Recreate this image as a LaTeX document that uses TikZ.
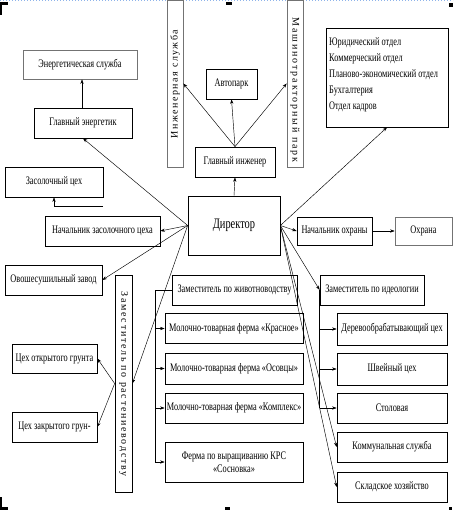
\documentclass[tikz,border=0pt]{standalone}
\usepackage{fontspec}
\setmainfont[FakeStretch=0.72]{Liberation Serif}
\newfontfamily\vfonti[LetterSpace=15]{Liberation Serif}
\newfontfamily\vfontm[LetterSpace=19]{Liberation Serif}
\newfontfamily\vfontr[LetterSpace=17]{Liberation Serif}
\usetikzlibrary{arrows.meta}
\definecolor{dotblue}{HTML}{8FB4EA}
\begin{document}
\begin{tikzpicture}[x=1pt,y=-1pt,
  box/.style={draw=black, line width=0.7pt, inner sep=1pt, align=center,
    font=\fontsize{11.5}{13}\selectfont},
  gbox/.style={box, draw=black!55},
  vtext/.style={inner sep=0pt},
  arr/.style={-{Stealth[length=4.5pt,width=3.2pt]}, line width=0.45pt},
  ln/.style={line width=0.45pt}]
\useasboundingbox (0,0) rectangle (453,510);

% page artefacts
\draw[dotblue, line width=1pt, dotted] (0,0.6) -- (453,0.6);
\fill[black] (0,2) rectangle (8,5);
\fill[black] (0,2) rectangle (2,15);
\fill[black] (226,2) rectangle (232,5);
\fill[black] (449,3) rectangle (453,7);
\fill[black] (0,497) rectangle (2,510);
\fill[black] (0,507) rectangle (8,510);
\fill[black] (225,507) rectangle (230,510);
\fill[black] (449,507) rectangle (452,510);

% top part
\node[gbox, minimum width=114, minimum height=29] (energs) at (80,64.5) {Энергетическая служба};
\node[box, minimum width=98, minimum height=30] (energ) at (83,123) {Главный энергетик};
\node[box, draw=black!55, minimum width=16, minimum height=167] (ings) at (175,83.5) {};
\node[vtext, rotate=90, font=\vfonti\fontsize{10}{12}\selectfont] (ingsT) at (175,84) {Инженерная служба};
\node[box, minimum width=51, minimum height=30] (avto) at (231.5,84) {Автопарк};
\node[box, draw=black!55, minimum width=16, minimum height=167] (mtp) at (295,83.5) {};
\node[vtext, rotate=-90, font=\vfontm\fontsize{10}{12}\selectfont] (mtpT) at (295,90) {Машинотракторный парк};
\node[box, minimum width=80, minimum height=30] (ingen) at (235,162) {Главный инженер};
\node[box, minimum width=122, minimum height=99] (depts) at (387,77.5) {};
\node[inner sep=0pt, anchor=west, align=left, font=\fontsize{11.5}{16}\selectfont] (deptsT) at (329,75)
  {Юридический отдел\\Коммерческий отдел\\Планово-экономический отдел\\Бухгалтерия\\Отдел кадров};

% middle part
\node[box, minimum width=98, minimum height=30] (zas) at (54,182) {Засолочный цех};
\node[box, minimum width=115, minimum height=30] (nzas) at (102.5,231) {Начальник засолочного цеха};
\node[box, minimum width=92, minimum height=59, font=\fontsize{14.5}{16}\selectfont] (dir) at (234,225.5) {Директор};
\node[box, minimum width=75, minimum height=28] (nohr) at (334.5,231) {Начальник охраны};
\node[gbox, minimum width=57, minimum height=28] (ohr) at (423.5,231) {Охрана};
\node[box, minimum width=97, minimum height=30] (ovosh) at (53.5,280) {Овошесушильный завод};

% lower left
\node[box, minimum width=17, minimum height=217] (rast) at (123.5,383.5) {};
\node[vtext, rotate=-90, font=\vfontr\fontsize{10}{12}\selectfont] (rastT) at (123.5,384) {Заместитель по растениеводству};
\node[box, minimum width=85, minimum height=29] (otkr) at (54.5,358.5) {Цех открытого грунта};
\node[box, minimum width=85, minimum height=30] (zakr) at (54.5,427) {Цех закрытого грун-};

% livestock
\node[box, minimum width=125, minimum height=30] (zhiv) at (234.5,290) {Заместитель по животноводству};
\node[box, minimum width=138, minimum height=30] (f1) at (234,328.5) {Молочно-товарная ферма «Красное»};
\node[box, minimum width=138, minimum height=31] (f2) at (234,368.5) {Молочно-товарная ферма «Осовцы»};
\node[box, minimum width=138, minimum height=30] (f3) at (234,408) {Молочно-товарная ферма «Комплекс»};
\node[box, minimum width=138, minimum height=40] (f4) at (234,462) {Ферма по выращиванию КРС\\«Сосновка»};

% ideology
\node[box, minimum width=104, minimum height=30] (ideo) at (372,290) {Заместитель по идеологии};
\node[box, minimum width=110, minimum height=32] (i1) at (392,329) {Деревообрабатывающий цех};
\node[box, minimum width=110, minimum height=32] (i2) at (392,369) {Швейный цех};
\node[box, minimum width=110, minimum height=30] (i3) at (392,408) {Столовая};
\node[box, minimum width=110, minimum height=30] (i4) at (392,447) {Коммунальная служба};
\node[box, minimum width=110, minimum height=30] (i5) at (392,487) {Складское хозяйство};

% connectors: top
\draw[arr] (energ.north -| 82,0) -- (energs.south -| 82,0);
\draw[arr] (dir.north) -- (ingen.south);
\draw[arr] (ingen.north) -- (ings.east);
\draw[arr] (ingen.north) -- (avto.south);
\draw[arr] (ingen.north) -- (mtp.west);

% director left
\draw[arr] (dir.west) -- (energ.south);
\draw[arr] (dir.west) -- (nzas.east);
\draw[arr] (dir.west) -- (ovosh.east);
\draw[arr] (dir.west) -- (rast.east);
\coordinate (zasStart) at (103,206);
\draw[arr] (zasStart) -| (zas.south);

% director right
\draw[arr] (dir.east) -- (depts.south);
\draw[arr] (dir.east) -- (nohr.west);
\draw[arr] (nohr.east) -- (ohr.west);
\draw[arr] (dir.east) -- (ideo.west);
\draw[arr] (dir.east) -- (i4.west);
\draw[arr] (dir.east) -- (i5.west);

% plant growing
\draw[arr] (rast.west) -- (otkr.east);
\draw[arr] (rast.west) -- (zakr.east);

% livestock bus
\coordinate (zbus) at (155,290);
\coordinate (zbusEnd) at (155,462);
\draw[ln] (zhiv.west) -- (zbus) -- (zbusEnd);
\draw[arr] (zbus |- f1.west) -- (f1.west);
\draw[arr] (zbus |- f2.west) -- (f2.west);
\draw[arr] (zbus |- f3.west) -- (f3.west);
\draw[arr] (zbusEnd) -- (f4.west);

% ideology bus
\draw[ln] (ideo.west) -- (ideo.west |- i3.west);
\draw[arr] (ideo.west |- i1.west) -- (i1.west);
\draw[arr] (ideo.west |- i2.west) -- (i2.west);
\draw[arr] (ideo.west |- i3.west) -- (i3.west);
\end{tikzpicture}
\end{document}
